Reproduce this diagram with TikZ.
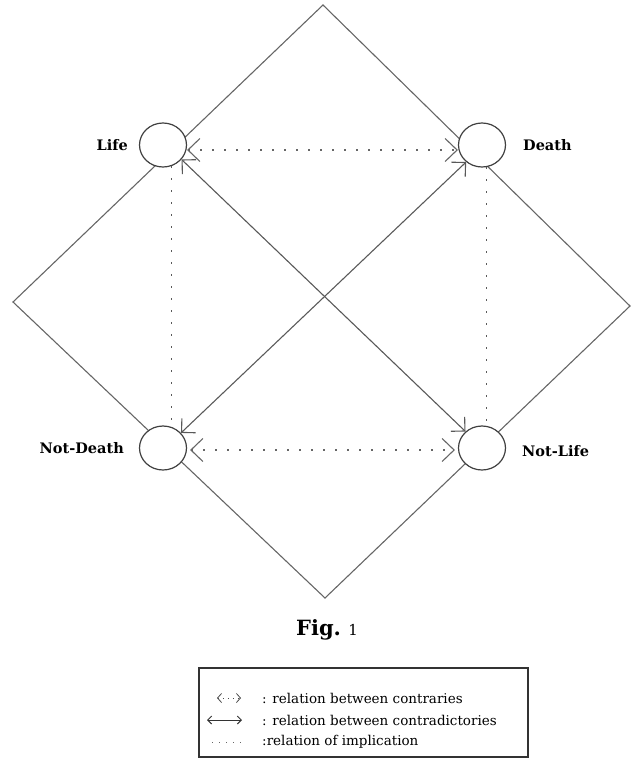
\documentclass[tikz,border=0pt]{standalone}
\usepackage{fontspec}
\setmainfont{DejaVu Serif}
\usetikzlibrary{arrows.meta,shapes.geometric}
\begin{document}
\begin{tikzpicture}[x=1pt,y=-1pt,
  term/.style={ellipse,draw=black!75,line width=1.2pt,fill=white,
    minimum width=47pt,minimum height=44pt,inner sep=0pt},
  lbl/.style={font=\fontsize{14.5}{16}\selectfont\bfseries,inner sep=0pt},
  frame/.style={draw=black!60,line width=1.1pt},
  contrad/.style={draw=black!65,line width=1.1pt,
    {Straight Barb[length=10pt,width=20pt]}-{Straight Barb[length=10pt,width=20pt]}},
  contrary/.style={draw=black!60,line width=1.1pt,dash pattern=on 1.2pt off 10.8pt,
    {Straight Barb[length=12pt,width=23pt]}-{Straight Barb[length=12pt,width=23pt]}},
  implic/.style={draw=black!65,line width=1.3pt,dash pattern=on 1.4pt off 10.6pt},
  legtext/.style={font=\fontsize{13.5}{15}\selectfont,inner sep=0pt,anchor=west}]
\useasboundingbox (0,0) rectangle (631,763);

% corners of the outer square
\coordinate (top) at (323,5);
\coordinate (left) at (13,302);
\coordinate (bottom) at (325,598);
\coordinate (right) at (630,306);
\draw[frame] (top) -- (left) -- (bottom) -- (right) -- cycle;

% the four terms
\node[term] (life) at (163,145) {};
\node[term] (death) at (482,145) {};
\node[term] (notdeath) at (163,448) {};
\node[term] (notlife) at (482,448) {};

\node[lbl,anchor=east] (lifel) at (128,145) {Life};
\node[lbl,anchor=west] (deathl) at (523,145) {Death};
\node[lbl,anchor=east] (notdeathl) at (124,448) {Not-Death};
\node[lbl,anchor=west] (notlifel) at (522,451) {Not-Life};

% contradictories
\draw[contrad] (life.-38) -- (notlife.135);
\draw[contrad] (death.-133) -- (notdeath.40);

% contraries
\draw[contrary] ([yshift=-5pt]life.east) -- ([yshift=-5pt]death.west);
\draw[contrary] ([yshift=-2pt,xshift=3pt]notdeath.east) -- ([yshift=-2pt,xshift=-3pt]notlife.west);

% implication
\draw[implic] (life.-68) -- (notdeath.68);
\draw[implic] (death.-78) -- (notlife.78);

% caption
\node[inner sep=0pt] (cap) at (327,630)
  {\fontsize{21}{23}\selectfont\bfseries Fig.\ \fontsize{15}{17}\mdseries 1};

% legend
\coordinate (bx1) at (199,668);
\coordinate (bx2) at (528,757);
\draw[draw=black!80,line width=1.1pt] (bx1) rectangle (bx2);
\draw[draw=black!80,line width=2.2pt] (bx1) -- (bx2 |- bx1);

\coordinate (a1) at (217,698);
\coordinate (a2) at (241,698);
\draw[draw=black!70,line width=0.8pt,dash pattern=on 1pt off 4pt,
  {Straight Barb[length=4pt,width=9pt]}-{Straight Barb[length=4pt,width=9pt]}] (a1) -- (a2);
\node[legtext] (t1) at (262,698) {: relation between contraries};

\coordinate (b1) at (207,720);
\coordinate (b2) at (242,720);
\draw[draw=black!80,line width=1pt,
  {Straight Barb[length=4pt,width=8pt]}-{Straight Barb[length=4pt,width=8pt]}] (b1) -- (b2);
\node[legtext] (t2) at (262,720) {: relation between contradictories};

\coordinate (c1) at (212,742);
\coordinate (c2) at (241,742);
\draw[draw=black!60,line width=0.8pt,dash pattern=on 1pt off 6pt] (c1) -- (c2);
\node[legtext] (t3) at (262,742) {:relation of implication};
\end{tikzpicture}
\end{document}
